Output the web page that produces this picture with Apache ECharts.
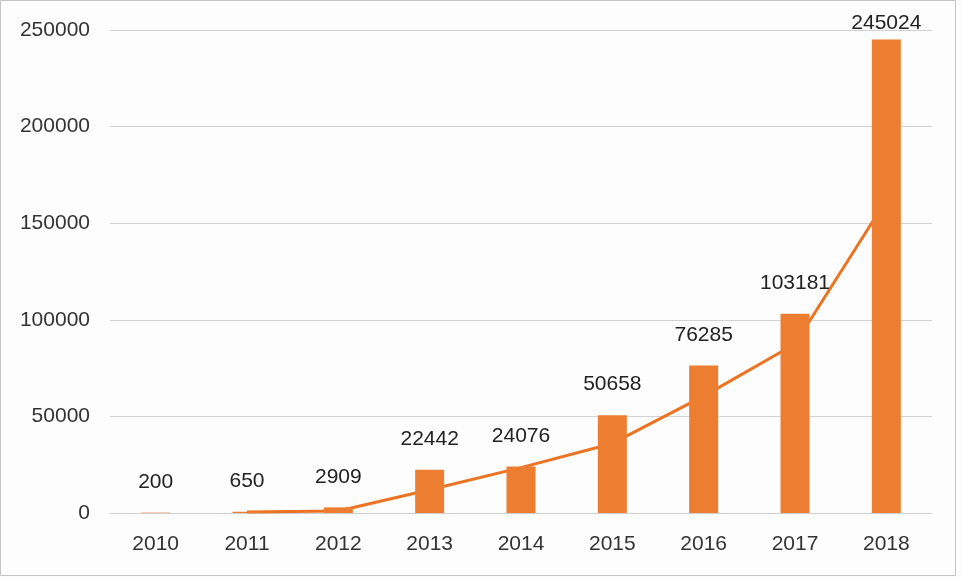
<!DOCTYPE html>
<html>
<head>
<meta charset="utf-8">
<script src="https://cdn.jsdelivr.net/npm/echarts@6/dist/echarts.min.js"></script>
<style>
html,body{margin:0;padding:0;background:#fdfdfd;}
#chart{width:962px;height:578px;}
</style>
</head>
<body>
<div id="chart"></div>
<script>
var years = ['2010','2011','2012','2013','2014','2015','2016','2017','2018'];
var barValues = [200, 650, 2909, 22442, 24076, 50658, 76285, 103181, 245024];
var lineValues = [null, 500, 1000, 12000, 23500, 36000, 60500, 87500, 162000];
var yTicks = [0, 50000, 100000, 150000, 200000, 250000];

var orange = '#ED7D31';
var font = 'Liberation Sans, Arial, sans-serif';

var barData = barValues.map(function (v, i) {
  var item = { value: v };
  if (i === barValues.length - 1) item.label = { distance: 6 };
  return item;
});

var chart = echarts.init(document.getElementById('chart'), null, { renderer: 'canvas' });
chart.setOption({
  backgroundColor: '#fdfdfd',
  animation: false,
  grid: { left: 110, right: 30, top: 30, bottom: 65 },
  graphic: [{
    type: 'rect',
    shape: { x: 0.5, y: 0.5, width: 955, height: 575 },
    style: { fill: 'none', stroke: '#c4c4c4', lineWidth: 1 },
    silent: true
  }],
  xAxis: {
    type: 'category',
    data: years,
    axisLine: { show: true, lineStyle: { color: '#cfcfcf', width: 1 } },
    axisTick: { show: false },
    axisLabel: { color: '#333', fontFamily: font, fontSize: 21, margin: 21 }
  },
  yAxis: {
    type: 'value',
    min: yTicks[0],
    max: yTicks[yTicks.length - 1],
    interval: yTicks[1] - yTicks[0],
    axisLine: { show: false },
    axisTick: { show: false },
    splitLine: { lineStyle: { color: '#d2d2d2', width: 1 } },
    axisLabel: {
      color: '#333', fontFamily: font, fontSize: 21, margin: 20,
      formatter: function (v) { return String(v); }
    }
  },
  series: [
    {
      type: 'line',
      data: lineValues,
      symbol: 'none',
      connectNulls: false,
      lineStyle: { color: '#EC7322', width: 3 },
      z: 1
    },
    {
      type: 'bar',
      data: barData,
      barWidth: 29,
      itemStyle: { color: orange },
      z: 2,
      label: {
        show: true,
        position: 'top',
        distance: 20,
        color: '#222',
        fontFamily: font,
        fontSize: 21
      }
    }
  ]
});
</script>
</body>
</html>
